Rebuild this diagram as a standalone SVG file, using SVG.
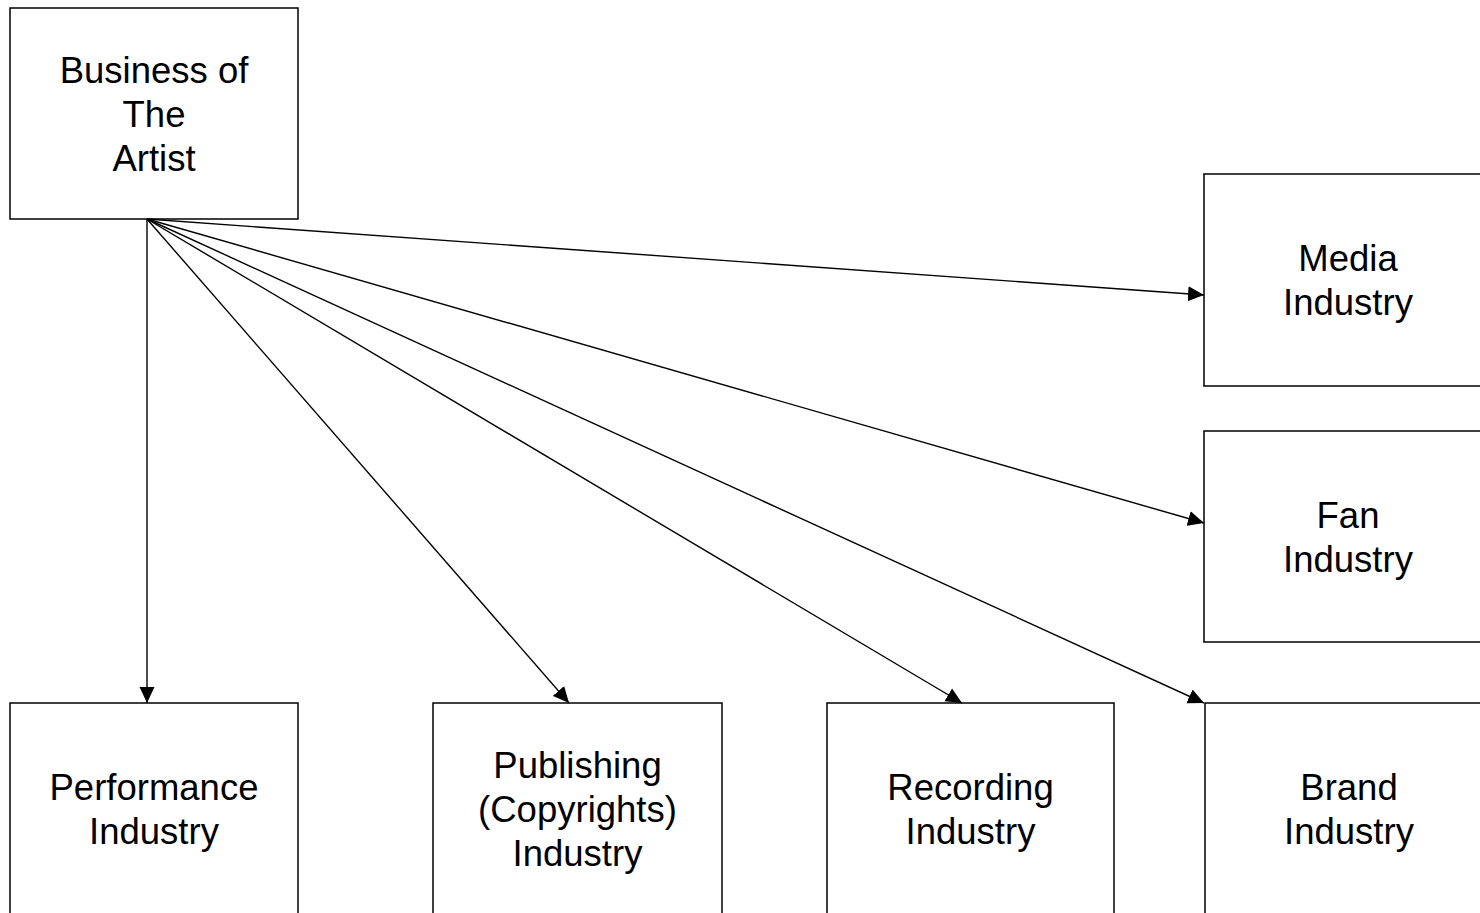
<svg xmlns="http://www.w3.org/2000/svg" width="1480" height="913" viewBox="0 0 1480 913">
<style>
.box{fill:#fff;stroke:#000;stroke-width:1.5}
.lbl{font-family:"Liberation Sans",Arial,sans-serif;font-size:36.5px;fill:#000;text-anchor:middle}
.conn{stroke:#000;stroke-width:1.4;fill:none;marker-end:url(#arr)}
</style>
<defs>
<marker id="arr" markerUnits="userSpaceOnUse" markerWidth="16" markerHeight="16" viewBox="0 0 16 16" refX="16" refY="8" orient="auto">
<path d="M0,0.5 L16,8 L0,15.5 Z" fill="#000"/>
</marker>
</defs>
<rect width="1480" height="913" fill="#fff"/>
<g id="business">
<rect class="box" x="10" y="8" width="288" height="211"/>
<text class="lbl" x="154" y="83">Business of</text>
<text class="lbl" x="154" y="127">The</text>
<text class="lbl" x="154" y="171">Artist</text>
</g>
<g id="media">
<rect class="box" x="1204" y="174" width="288" height="212"/>
<text class="lbl" x="1348" y="271">Media</text>
<text class="lbl" x="1348" y="315">Industry</text>
</g>
<g id="fan">
<rect class="box" x="1204" y="431" width="288" height="211"/>
<text class="lbl" x="1348" y="528">Fan</text>
<text class="lbl" x="1348" y="572">Industry</text>
</g>
<g id="performance">
<rect class="box" x="10" y="703" width="288" height="230"/>
<text class="lbl" x="154" y="800">Performance</text>
<text class="lbl" x="154" y="844">Industry</text>
</g>
<g id="publishing">
<rect class="box" x="433" y="703" width="289" height="230"/>
<text class="lbl" x="577.5" y="778">Publishing</text>
<text class="lbl" x="577.5" y="822">(Copyrights)</text>
<text class="lbl" x="577.5" y="866">Industry</text>
</g>
<g id="recording">
<rect class="box" x="827" y="703" width="287" height="230"/>
<text class="lbl" x="970.5" y="800">Recording</text>
<text class="lbl" x="970.5" y="844">Industry</text>
</g>
<g id="brand">
<rect class="box" x="1205" y="703" width="288" height="230"/>
<text class="lbl" x="1349" y="800">Brand</text>
<text class="lbl" x="1349" y="844">Industry</text>
</g>
<g id="connectors">
<line class="conn" x1="147" y1="219" x2="147" y2="703"/>
<line class="conn" x1="147" y1="219" x2="569" y2="703"/>
<line class="conn" x1="147" y1="219" x2="962" y2="703"/>
<line class="conn" x1="147" y1="219" x2="1204" y2="703"/>
<line class="conn" x1="147" y1="219" x2="1204" y2="523"/>
<line class="conn" x1="147" y1="219" x2="1204" y2="295"/>
</g>
</svg>
